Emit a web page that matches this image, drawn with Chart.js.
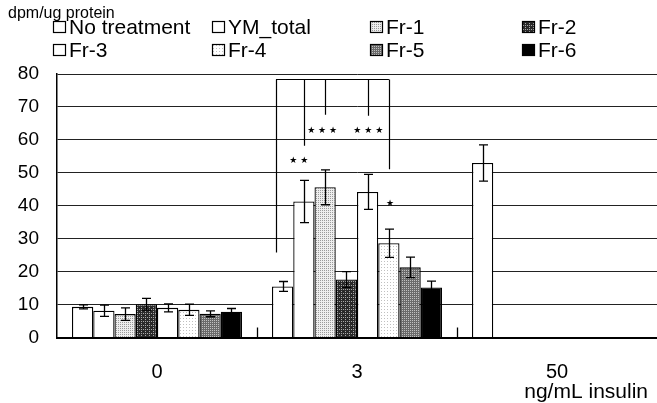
<!DOCTYPE html>
<html><head><meta charset="utf-8">
<script src="https://cdn.jsdelivr.net/npm/chart.js@4"></script>
<style>html,body{margin:0;padding:0;background:#fff}canvas{display:block}</style>
</head><body>
<canvas id="c" width="657" height="403"></canvas>
<script>
// ---- data ----
const categories = ['0', '3', '50'];
const seriesNames = ['No treatment', 'YM_total', 'Fr-1', 'Fr-2', 'Fr-3', 'Fr-4', 'Fr-5', 'Fr-6'];
const noTreatment = [9.3, 15.5, 53];
const ymTotal     = [8.1, 41.3, null];
const fr1         = [7.1, 45.6, null];
const fr2         = [10.1, 17.6, null];
const fr3         = [9.0, 44.2, null];
const fr4         = [8.4, 28.6, null];
const fr5         = [7.2, 21.3, null];
const fr6         = [7.8, 15.2, null];
const noTreatmentErr = [0.6, 1.5, 5.5];
const ymTotalErr     = [1.7, 6.4, null];
const fr1Err         = [1.9, 5.3, null];
const fr2Err         = [1.8, 2.4, null];
const fr3Err         = [1.2, 5.3, null];
const fr4Err         = [1.7, 4.3, null];
const fr5Err         = [0.9, 3.1, null];
const fr6Err         = [1.0, 1.9, null];
const yTicks = [0, 10, 20, 30, 40, 50, 60, 70, 80];
const yAxisTitle = 'dpm/ug protein';
const xAxisTitle = 'ng/mL insulin';
// significance annotations on the "3" group (slot = position in bar widths from group's first bar edge)
const bracketGroup = 1;
const bracketTopValue = 78.5;
const bracketLegSlots = [0.19, 1.5, 2.5, 4.5, 5.5];
const bracketLegBottoms = [25.8, 58.2, 67.6, 67.3, 51.1];
const starTexts = ['★ ★', '★ ★ ★', '★ ★ ★', '★'];
const starSlots = [1.26, 2.36, 4.53, 5.56];
const starValues = [53.6, 62.7, 62.7, 40.6];

const seriesValues = [noTreatment, ymTotal, fr1, fr2, fr3, fr4, fr5, fr6];
const seriesErrors = [noTreatmentErr, ymTotalErr, fr1Err, fr2Err, fr3Err, fr4Err, fr5Err, fr6Err];

// ---- fills ----
function makePattern(size, bg, dots, dotColor) {
  const c = document.createElement('canvas');
  c.width = size; c.height = size;
  const g = c.getContext('2d');
  g.fillStyle = bg; g.fillRect(0, 0, size, size);
  g.fillStyle = dotColor;
  dots.forEach(d => g.fillRect(d[0], d[1], 1, 1));
  return g.createPattern(c, 'repeat');
}
const cv = document.getElementById('c');
const fills = [
  '#ffffff',
  '#ffffff',
  makePattern(2, '#eeeeee', [[0,0]], '#9a9a9a'),
  makePattern(4, '#2a2a2a', [[1,1],[3,1],[1,3]], '#a8a8a8'),
  '#ffffff',
  makePattern(3, '#ffffff', [[0,0]], '#c0c0c0'),
  makePattern(2, '#6a6a6a', [[0,0]], '#c0c0c0'),
  '#000000'
];

Chart.defaults.font.family = "'Liberation Sans', Arial, sans-serif";
Chart.defaults.color = '#000';

const overlay = {
  id: 'overlay',
  afterDatasetsDraw(chart) {
    const ctx = chart.ctx, xs = chart.scales.x, ys = chart.scales.y, area = chart.chartArea;
    ctx.save();
    ctx.strokeStyle = '#000';
    ctx.lineWidth = 1.3;
    // error bars
    chart.data.datasets.forEach((ds, i) => {
      const meta = chart.getDatasetMeta(i);
      ds.data.forEach((v, j) => {
        if (v == null) return;
        const e = seriesErrors[i][j];
        const bar = meta.data[j];
        const x = Math.round(bar.x) + 0.5;
        const yt = ys.getPixelForValue(v + e), yb = ys.getPixelForValue(v - e);
        ctx.beginPath();
        ctx.moveTo(x, yt); ctx.lineTo(x, yb);
        ctx.moveTo(x - 4.5, yt); ctx.lineTo(x + 4.5, yt);
        ctx.moveTo(x - 4.5, yb); ctx.lineTo(x + 4.5, yb);
        ctx.stroke();
      });
    });
    // category boundary ticks (inside)
    for (let i = 1; i < categories.length; i++) {
      const xb = Math.round((xs.getPixelForValue(i - 1) + xs.getPixelForValue(i)) / 2) + 0.5;
      ctx.beginPath(); ctx.moveTo(xb, area.bottom); ctx.lineTo(xb, area.bottom - 10); ctx.stroke();
    }
    // bracket
    const meta0 = chart.getDatasetMeta(0);
    const bw = meta0.data[0].width;
    const gc = xs.getPixelForValue(bracketGroup);
    const n = chart.data.datasets.length;
    const sx = s => gc + (s - n / 2) * bw;
    const yTop = Math.round(ys.getPixelForValue(bracketTopValue)) + 0.5;
    ctx.lineWidth = 1.2;
    ctx.beginPath();
    ctx.moveTo(sx(bracketLegSlots[0]), yTop);
    ctx.lineTo(sx(bracketLegSlots[bracketLegSlots.length - 1]), yTop);
    bracketLegSlots.forEach((s, k) => {
      const x = Math.round(sx(s)) + 0.5;
      ctx.moveTo(x, yTop); ctx.lineTo(x, ys.getPixelForValue(bracketLegBottoms[k]));
    });
    ctx.stroke();
    ctx.fillStyle = '#000';
    ctx.font = "9px 'DejaVu Sans'";
    ctx.textAlign = 'center'; ctx.textBaseline = 'middle';
    starTexts.forEach((t, k) => ctx.fillText(t, sx(starSlots[k]), ys.getPixelForValue(starValues[k])));
    ctx.restore();
  },
  afterDraw(chart) {
    const ctx = chart.ctx;
    ctx.save();
    ctx.fillStyle = '#000';
    // y title
    ctx.font = "16px 'Liberation Sans'";
    ctx.textAlign = 'left'; ctx.textBaseline = 'alphabetic';
    ctx.fillText(yAxisTitle, 8, 18);
    // x title
    ctx.font = "21px 'Liberation Sans'";
    ctx.textAlign = 'right'; ctx.textBaseline = 'middle';
    ctx.fillText(xAxisTitle, 648, 392);
    // legend
    const cols = [53, 212, 370, 522];
    const rows = [34, 57];
    ctx.font = "21px 'Liberation Sans'";
    ctx.textAlign = 'left'; ctx.textBaseline = 'alphabetic';
    ctx.lineWidth = 1.2; ctx.strokeStyle = '#000';
    seriesNames.forEach((name, i) => {
      const cx = cols[i % 4], by = rows[Math.floor(i / 4)];
      ctx.fillStyle = fills[i];
      ctx.fillRect(cx, by - 13, 13, 12);
      ctx.strokeRect(cx + 0.5, by - 12.5, 12, 11);
      ctx.fillStyle = '#000';
      ctx.fillText(name, cx + 16, by);
    });
    ctx.restore();
  }
};

new Chart(cv, {
  type: 'bar',
  data: {
    labels: categories,
    datasets: seriesNames.map((name, i) => ({
      label: name,
      data: seriesValues[i],
      backgroundColor: fills[i],
      borderColor: '#000',
      borderWidth: 1.3,
      categoryPercentage: 0.85,
      barPercentage: 1.0
    }))
  },
  options: {
    responsive: false,
    animation: false,
    layout: { padding: { top: 74, right: 0, left: 0, bottom: 0 } },
    plugins: { legend: { display: false }, tooltip: { enabled: false } },
    scales: {
      x: {
        grid: { display: false },
        border: { display: true, color: '#000', width: 2 },
        ticks: { font: { size: 20 }, padding: 15, color: '#000' },
        afterFit(s) { s.height = 65.5; }
      },
      y: {
        min: 0, max: 80,
        afterBuildTicks(s) { s.ticks = yTicks.map(v => ({ value: v })); },
        grid: { color: '#222', lineWidth: 1, drawTicks: false },
        border: { display: true, color: '#000', width: 1.5 },
        ticks: { font: { size: 19 }, padding: 18, color: '#000' },
        afterFit(s) { s.width = 57; }
      }
    }
  },
  plugins: [overlay]
});
</script>
</body></html>
